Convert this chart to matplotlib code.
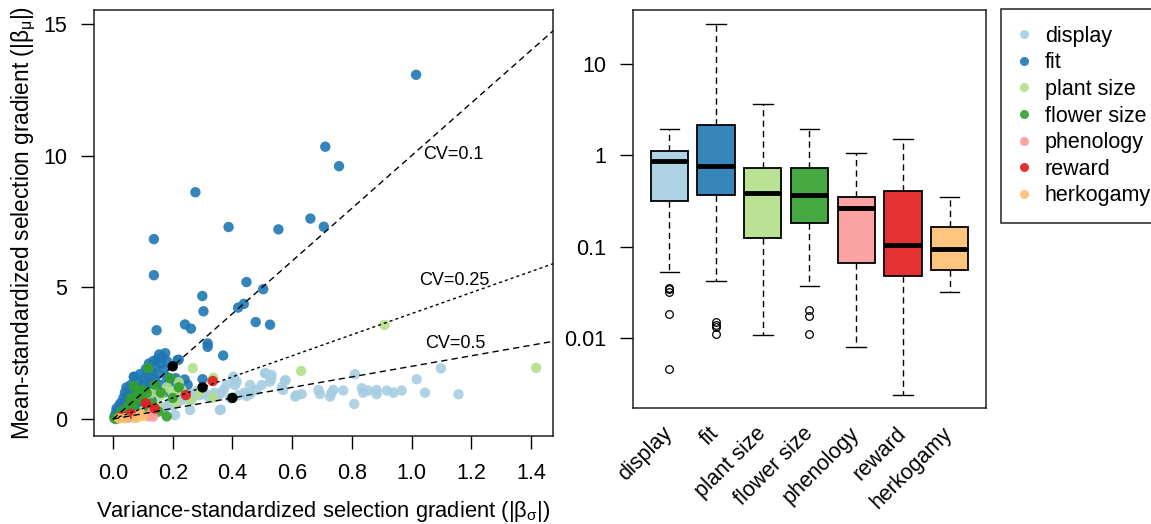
import matplotlib
matplotlib.use('Agg')
import matplotlib.pyplot as plt
from matplotlib.lines import Line2D

plt.rcParams['font.family'] = ['Liberation Sans', 'DejaVu Sans']
plt.rcParams['mathtext.fontset'] = 'custom'
plt.rcParams['mathtext.rm'] = 'Liberation Sans'
plt.rcParams['mathtext.it'] = 'Liberation Sans'

# categories and colours (RColorBrewer "Paired")
traits = ['display', 'fit', 'plant size', 'flower size', 'phenology', 'reward', 'herkogamy']
colors = ['#A6CEE3', '#1F78B4', '#B2DF8A', '#33A02C', '#FB9A99', '#E31A1C', '#FDBF6F']

# scatter: |beta_sigma| (x) and |beta_mu| (y)
disp_x = [1.098, 1.017, 0.81, 1.157, 1.045, 0.967, 0.939, 0.917, 0.883, 0.883, 0.855, 0.833,
          0.838, 0.808, 0.771, 0.738, 0.727, 0.732, 0.693, 0.688, 0.632, 0.61, 0.576, 0.570,
          0.531, 0.526, 0.509, 0.498, 0.459, 0.448, 0.414, 0.403, 0.405, 0.512, 0.53, 0.578,
          0.566, 0.614, 0.409, 0.392, 0.358, 0.258, 0.208, 0.28, 0.30, 0.32, 0.35, 0.18, 0.14,
          0.05, 0.08, 0.10, 0.12, 0.15, 0.17, 0.19, 0.20, 0.21, 0.22, 0.23, 0.24, 0.25, 0.26,
          0.27, 0.28, 0.29, 0.31, 0.33, 0.34, 0.36, 0.37, 0.38, 0.42, 0.44, 0.46, 0.48, 0.361]
disp_y = [1.92, 1.51, 1.70, 0.94, 1.0, 1.08, 1.0, 1.08, 0.94, 1.1, 1.08, 1.17,
          1.0, 0.57, 1.08, 1.1, 0.85, 1.0, 0.95, 1.1, 0.95, 0.85, 1.46, 1.1,
          1.67, 1.42, 1.74, 1.29, 1.29, 0.87, 1.42, 1.61, 1.54, 1.73, 1.54, 1.47,
          1.22, 0.9, 1.29, 0.79, 0.34, 0.34, 0.15, 1.0, 0.95, 0.85, 0.9, 0.47, 0.34,
          0.05, 0.15, 0.3, 0.25, 0.55, 0.4, 0.6, 0.5, 0.8, 0.65, 0.9, 0.75, 1.0, 0.7,
          0.85, 1.05, 0.9, 0.95, 0.85, 1.0, 0.95, 1.1, 1.3, 0.9, 1.0, 0.95, 1.1, 0.36]

fit_x = [1.015, 0.711, 0.757, 0.276, 0.661, 0.706, 0.387, 0.554, 0.137, 0.137, 0.447, 0.503,
         0.299, 0.303, 0.419, 0.438, 0.146, 0.241, 0.261, 0.478, 0.526, 0.317, 0.317, 0.369,
         0.30, 0.216, 0.07, 0.24, 0.25,
         0.005, 0.01, 0.012, 0.015, 0.02, 0.02, 0.025, 0.03, 0.03, 0.035, 0.035, 0.04, 0.04,
         0.045, 0.045, 0.05, 0.05, 0.055, 0.06, 0.06, 0.065, 0.07, 0.07, 0.075, 0.08, 0.08,
         0.085, 0.09, 0.09, 0.095, 0.10, 0.10, 0.105, 0.11, 0.11, 0.115, 0.12, 0.12, 0.125,
         0.13, 0.13, 0.135, 0.14, 0.14, 0.145, 0.15, 0.15, 0.155, 0.16, 0.16, 0.165, 0.17,
         0.175, 0.18, 0.18, 0.19, 0.21, 0.22, 0.22, 0.08, 0.13, 0.17]
fit_y = [13.07, 10.34, 9.60, 8.61, 7.61, 7.30, 7.29, 7.20, 6.83, 5.46, 5.20, 4.93,
         4.67, 4.09, 4.23, 4.37, 3.37, 3.59, 3.43, 3.68, 3.58, 2.87, 2.74, 2.41,
         1.51, 2.24, 1.6, 1.5, 1.3,
         0.1, 0.25, 0.4, 0.15, 0.5, 0.3, 0.6, 0.2, 0.45, 0.8, 0.35, 1.0, 0.55,
         1.2, 0.7, 0.9, 0.4, 1.1, 0.6, 1.3, 0.8, 1.0, 1.6, 0.5, 1.2, 0.7,
         1.4, 0.9, 1.7, 1.1, 1.3, 0.6, 1.55, 1.9, 0.9, 1.2, 2.1, 1.6, 1.0,
         1.8, 1.35, 2.2, 1.5, 2.0, 1.1, 2.3, 1.7, 2.45, 2.1, 1.3, 2.35, 1.9,
         2.5, 1.6, 2.2, 1.4, 1.55, 2.25, 1.2, 0.3, 0.7, 1.0]

plant_x = [0.909, 0.267, 0.63, 1.417, 0.336, 0.336, 0.02, 0.04, 0.06, 0.07, 0.10, 0.12,
           0.14, 0.16, 0.18, 0.20, 0.22, 0.23, 0.21, 0.15, 0.26, 0.29]
plant_y = [3.57, 1.93, 1.82, 1.94, 1.56, 0.81, 0.05, 0.1, 0.2, 0.05, 0.3, 0.8,
           1.05, 0.9, 1.2, 1.0, 1.4, 1.1, 0.6, 0.5, 0.7, 1.0]

flower_x = [0.005, 0.01, 0.02, 0.03, 0.05, 0.06, 0.068, 0.085, 0.09, 0.10, 0.113, 0.118,
            0.12, 0.13, 0.14, 0.152, 0.16, 0.18, 0.191, 0.20, 0.22, 0.08, 0.07]
flower_y = [0.02, 0.0, 0.1, 0.3, 0.5, 0.8, 0.6, 0.98, 0.75, 1.1, 0.98, 1.93,
            0.4, 0.6, 1.3, 0.28, 1.0, 0.1, 1.55, 0.8, 1.2, 0.25, 1.25]

phen_x = [0.12, 0.134, 0.05, 0.08, 0.13]
phen_y = [0.1, 0.09, 0.05, 0.15, 0.25]

reward_x = [0.334, 0.244, 0.11, 0.14, 0.03, 0.06]
reward_y = [1.44, 0.91, 0.6, 0.4, 0.1, 0.2]

herko_x = [0.094, 0.10, 0.08, 0.04, 0.02]
herko_y = [0.17, 0.12, 0.05, 0.03, 0.02]

# reference CV lines and the points marked on them
cv_values = [0.1, 0.25, 0.5]
cv_label_x = [1.04, 1.025, 1.045]
cv_label_y = [10.05, 5.25, 2.85]
mark_x = [0.2, 0.3, 0.4]

# boxplot statistics of |beta_mu| per trait (log scale)
box_hi = [1.93, 27.3, 3.6, 1.93, 1.07, 1.52, 0.351]
box_q3 = [1.11, 2.14, 0.726, 0.726, 0.351, 0.402, 0.163]
box_med = [0.867, 0.757, 0.389, 0.363, 0.266, 0.104, 0.0935]
box_q1 = [0.315, 0.363, 0.1236, 0.182, 0.0656, 0.048, 0.0554]
box_lo = [0.053, 0.0416, 0.0109, 0.0367, 0.0079, 0.0024, 0.0315]
box_out = [[0.035, 0.034, 0.032, 0.0184, 0.0046],
           [0.0149, 0.0137, 0.0131, 0.011],
           [],
           [0.020, 0.0173, 0.011],
           [], [], []]

fig = plt.figure(figsize=(11.51, 5.24), dpi=100)
ax1 = fig.add_axes([94 / 1151, 88 / 524, 459 / 1151, 426 / 524])
ax2 = fig.add_axes([633 / 1151, 116 / 524, 353 / 1151, 398 / 524])

fs = 15.5
alpha = 0.9

# ---- left: scatter
groups = [(disp_x, disp_y), (fit_x, fit_y), (plant_x, plant_y), (flower_x, flower_y),
          (phen_x, phen_y), (reward_x, reward_y), (herko_x, herko_y)]
for (gx, gy), c in zip(groups, colors):
    ax1.scatter(gx, gy, s=56, color=c, alpha=alpha, edgecolors='none', zorder=2)

xs = [0, 1.6]
dashes = [(0, (4.5, 3)), (0, (2.2, 2.2)), (0, (4.5, 3))]
for cv, ls in zip(cv_values, dashes):
    ax1.plot(xs, [v / cv for v in xs], color='black', lw=1, linestyle=ls, zorder=3)
ax1.scatter(mark_x, [x / cv for x, cv in zip(mark_x, cv_values)], s=56, color='black',
            edgecolors='none', zorder=4)
for cv, lx, ly in zip(cv_values, cv_label_x, cv_label_y):
    ax1.text(lx, ly, f'CV={cv}', fontsize=13, ha='left', va='center', zorder=5)

ax1.set_xlim(-0.0636, 1.4735)
ax1.set_ylim(-0.646, 15.53)
ax1.set_xticks([0, 0.2, 0.4, 0.6, 0.8, 1.0, 1.2, 1.4])
ax1.set_xticklabels(['0.0', '0.2', '0.4', '0.6', '0.8', '1.0', '1.2', '1.4'])
ax1.set_yticks([0, 5, 10, 15])
ax1.tick_params(labelsize=fs, length=9.4, pad=10, width=1)
ax1.set_xlabel(r'Variance-standardized selection gradient (|$\mathregular{\beta_\sigma}$|)', fontsize=15.8)
ax1.set_ylabel(r'Mean-standardized selection gradient (|$\mathregular{\beta_\mu}$|)', fontsize=16.3)
ax1.xaxis.set_label_coords(0.5, -0.148)
ax1.yaxis.set_label_coords(-0.122, 0.5)

# ---- right: boxplot
stats = []
for i in range(len(traits)):
    stats.append(dict(med=box_med[i], q1=box_q1[i], q3=box_q3[i],
                      whislo=box_lo[i], whishi=box_hi[i], fliers=box_out[i]))
pos = list(range(1, len(traits) + 1))
bp = ax2.bxp(stats, positions=pos, widths=0.8, capwidths=0.42, patch_artist=True,
             boxprops=dict(edgecolor='black', linewidth=1.3),
             whiskerprops=dict(linestyle=(0, (4.5, 3)), linewidth=1),
             capprops=dict(linewidth=1),
             medianprops=dict(color='black', linewidth=3.5, solid_capstyle='butt'),
             flierprops=dict(marker='o', markerfacecolor='none', markeredgecolor='black',
                             markersize=5.5, markeredgewidth=0.9))
for patch, c in zip(bp['boxes'], colors):
    patch.set_facecolor(matplotlib.colors.to_rgba(c, alpha))

ax2.set_yscale('log')
ax2.set_ylim(0.00171, 39.0)
ax2.set_xlim(0.22, 7.78)
ax2.set_yticks([0.01, 0.1, 1, 10])
ax2.set_yticklabels(['0.01', '0.1', '1', '10'])
ax2.minorticks_off()
ax2.tick_params(axis='y', labelsize=fs, length=9.4, pad=10, width=1)
ax2.set_xticks(pos)
ax2.set_xticklabels(traits, rotation=45, ha='right', va='center', rotation_mode='anchor',
                    fontsize=fs)
ax2.tick_params(axis='x', length=0, pad=16)

for ax in (ax1, ax2):
    for sp in ax.spines.values():
        sp.set_linewidth(1.1)
        sp.set_color('#222222')

handles = [Line2D([], [], marker='o', linestyle='none', markersize=6.5,
                  markerfacecolor=c, markeredgecolor='none', alpha=alpha) for c in colors]
leg = fig.legend(handles, traits, loc='upper left', mode='expand',
                 bbox_to_anchor=(1001 / 1151, 0, 0.2, 1 - 9 / 524),
                 bbox_transform=fig.transFigure, fontsize=fs, borderaxespad=0,
                 borderpad=0.78, labelspacing=0.26, handlelength=0.6, handletextpad=0.65,
                 fancybox=False, framealpha=1, edgecolor='#222222')
leg.get_frame().set_linewidth(1.1)

fig.savefig('out.png', dpi=100)
